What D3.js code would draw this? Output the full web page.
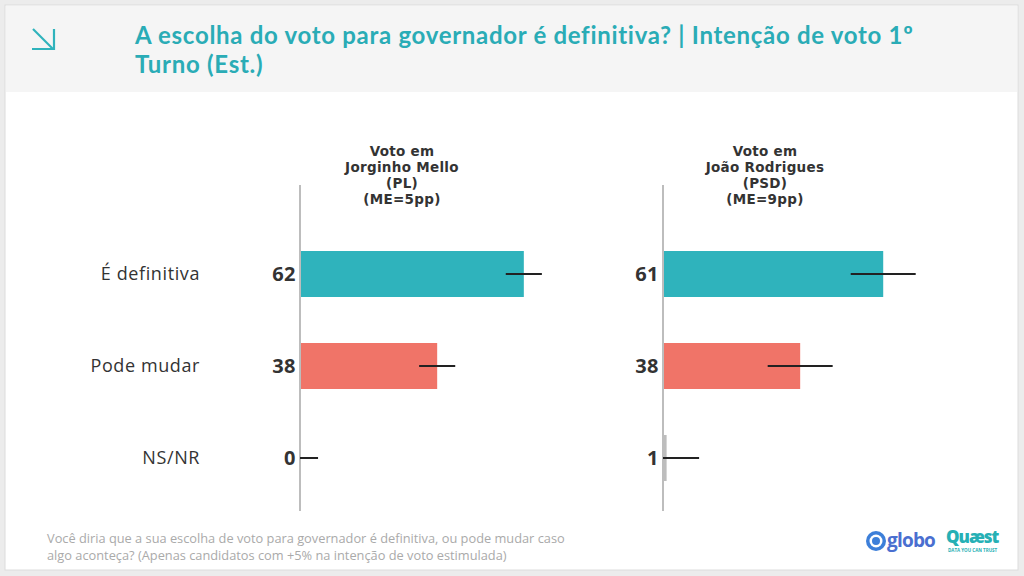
<!DOCTYPE html>
<html>
<head>
<meta charset="utf-8">
<script src="https://cdn.jsdelivr.net/npm/d3@7"></script>
<style>
  html, body { margin: 0; padding: 0; background: #ececec; }
  svg { display: block; font-family: "Open Sans", "Noto Sans", sans-serif; }
</style>
</head>
<body>
<svg id="chart" width="1024" height="576"></svg>
<script>
"use strict";

// data
const categories = ["É definitiva", "Pode mudar", "NS/NR"];
const candidates = ["Jorginho Mello", "João Rodrigues"];
const parties = ["PL", "PSD"];
const margins = [5, 9];
const jorginhoValues = [62, 38, 0];
const joaoValues = [61, 38, 1];
const catColors = ["#2fb3bc", "#f07468", "#bdbdbd"];

const titleLines = [
    "A escolha do voto para governador é definitiva? | Intenção de voto 1º",
    "Turno (Est.)"
];
const footLines = [
    "Você diria que a sua escolha de voto para governador é definitiva, ou pode mudar caso",
    "algo aconteça? (Apenas candidatos com +5% na intenção de voto estimulada)"
];

const svg = d3.select("#chart");

// card + header band
svg.append("rect").attr("x", 5).attr("y", 5).attr("width", 1013).attr("height", 565)
    .attr("fill", "#fff").attr("stroke", "#dcdcdc");
svg.append("rect").attr("x", 6).attr("y", 6).attr("width", 1011).attr("height", 86)
    .attr("fill", "#f5f5f5");

// arrow icon
const icon = svg.append("g").attr("stroke", "#2fb3bc").attr("stroke-width", 2.2)
    .attr("fill", "none");
icon.append("path").attr("d", "M33,29 L53,49");
icon.append("path").attr("d", "M54,29 L54,49 L32,49");

svg.append("g").selectAll("text").data(titleLines).enter()
    .append("text")
    .attr("x", 135)
    .attr("y", (d, i) => 44 + i * 29)
    .attr("fill", "#2aacb6")
    .attr("font-family", "Lato, sans-serif")
    .attr("font-size", 24)
    .attr("font-weight", 700)
    .attr("letter-spacing", 0.7)
    .text(d => d);

// shared scales
const y = d3.scaleBand().domain(categories).range([228, 504]).paddingInner(0.5).paddingOuter(0.25);
const x = d3.scaleLinear().domain([0, 100]).range([0, 361]);

// category labels on the left
svg.append("g").selectAll("text").data(categories).enter()
    .append("text")
    .attr("x", 200)
    .attr("y", d => y(d) + y.bandwidth() / 2)
    .attr("dy", "0.36em")
    .attr("text-anchor", "end")
    .attr("fill", "#333")
    .attr("font-size", 18)
    .attr("letter-spacing", 0.6)
    .text(d => d);

const panels = [
    {name: candidates[0], party: parties[0], me: margins[0], values: jorginhoValues, x0: 300},
    {name: candidates[1], party: parties[1], me: margins[1], values: joaoValues, x0: 663}
];

panels.forEach(p => {
    const g = svg.append("g").attr("transform", `translate(${p.x0},0)`);
    const rows = categories.map((c, i) => ({cat: c, v: p.values[i], color: catColors[i]}));

    // header
    const head = ["Voto em", p.name, `(${p.party})`, `(ME=${p.me}pp)`];
    g.append("g").selectAll("text").data(head).enter()
        .append("text")
        .attr("x", 102)
        .attr("y", (d, i) => 156 + i * 16)
        .attr("text-anchor", "middle")
        .attr("fill", "#333")
        .attr("font-family", "'DejaVu Sans', sans-serif")
        .attr("font-size", 13.5)
        .attr("font-weight", 700)
        .attr("letter-spacing", 0.3)
        .text(d => d);

    // bars
    g.selectAll("rect.bar").data(rows).enter()
        .append("rect")
        .attr("class", "bar")
        .attr("x", 0)
        .attr("y", d => y(d.cat))
        .attr("width", d => x(d.v))
        .attr("height", y.bandwidth())
        .attr("fill", d => d.v > 2 ? d.color : "#bdbdbd");

    // axis line
    g.append("line").attr("x1", 0).attr("x2", 0).attr("y1", 185).attr("y2", 511)
        .attr("stroke", "#bdbdbd").attr("stroke-width", 2);

    // error bars (clipped at zero)
    g.selectAll("line.err").data(rows).enter()
        .append("line")
        .attr("class", "err")
        .attr("x1", d => x(Math.max(0, d.v - p.me)))
        .attr("x2", d => x(d.v + p.me))
        .attr("y1", d => y(d.cat) + y.bandwidth() / 2)
        .attr("y2", d => y(d.cat) + y.bandwidth() / 2)
        .attr("stroke", "#222")
        .attr("stroke-width", 2);

    // value labels
    g.selectAll("text.val").data(rows).enter()
        .append("text")
        .attr("class", "val")
        .attr("x", -4)
        .attr("y", d => y(d.cat) + y.bandwidth() / 2)
        .attr("dy", "0.36em")
        .attr("text-anchor", "end")
        .attr("fill", "#333")
        .attr("font-size", 20)
        .attr("font-weight", 700)
        .attr("letter-spacing", 0.5)
        .text(d => d.v);
});

// footer note
svg.append("g").selectAll("text").data(footLines).enter()
    .append("text")
    .attr("x", 47)
    .attr("y", (d, i) => 543 + i * 17)
    .attr("fill", "#aaaaaa")
    .attr("font-size", 12.8)
    .text(d => d);

// logos
const globo = svg.append("g");
globo.append("circle").attr("cx", 876).attr("cy", 541).attr("r", 10).attr("fill", "#3d7fd9");
globo.append("circle").attr("cx", 876).attr("cy", 541).attr("r", 6.5).attr("fill", "#fff");
globo.append("circle").attr("cx", 876).attr("cy", 541).attr("r", 4).attr("fill", "#3d7fd9");
globo.append("text").attr("x", 887).attr("y", 547).attr("fill", "#4a6fd0")
    .attr("font-size", 19).attr("font-weight", 700).attr("letter-spacing", -0.8).text("globo");

const quaest = svg.append("g");
quaest.append("text").attr("x", 946).attr("y", 543).attr("fill", "#26b0b5")
    .attr("font-size", 17).attr("font-weight", 800).attr("letter-spacing", -1).text("Quæst");
quaest.append("text").attr("x", 948).attr("y", 552).attr("fill", "#26b0b5")
    .attr("font-size", 4.5).attr("font-weight", 700).text("DATA YOU CAN TRUST");
</script>
</body>
</html>
